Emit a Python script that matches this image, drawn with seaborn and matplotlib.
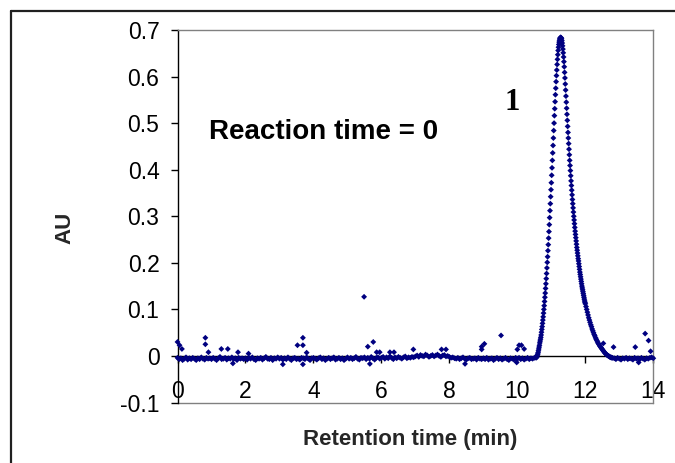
import matplotlib
matplotlib.use("Agg")
import matplotlib.pyplot as plt
import seaborn as sns
import pandas as pd
from matplotlib.lines import Line2D
from matplotlib.ticker import FixedLocator, FixedFormatter

# ---------------- data ----------------
baseline_time = [
    0.00, 0.05, 0.10, 0.15, 0.20, 0.25, 0.30, 0.35, 0.40, 0.45, 0.50, 0.55, 0.60, 0.65, 0.70, 0.75, 0.80, 0.85, 0.90, 0.95,
    1.00, 1.05, 1.10, 1.15, 1.20, 1.25, 1.30, 1.35, 1.40, 1.45, 1.50, 1.55, 1.60, 1.65, 1.70, 1.75, 1.80, 1.85, 1.90, 1.95,
    2.00, 2.05, 2.10, 2.15, 2.20, 2.25, 2.30, 2.35, 2.40, 2.45, 2.50, 2.55, 2.60, 2.65, 2.70, 2.75, 2.80, 2.85, 2.90, 2.95,
    3.00, 3.05, 3.10, 3.15, 3.20, 3.25, 3.30, 3.35, 3.40, 3.45, 3.50, 3.55, 3.60, 3.65, 3.70, 3.75, 3.80, 3.85, 3.90, 3.95,
    4.00, 4.05, 4.10, 4.15, 4.20, 4.25, 4.30, 4.35, 4.40, 4.45, 4.50, 4.55, 4.60, 4.65, 4.70, 4.75, 4.80, 4.85, 4.90, 4.95,
    5.00, 5.05, 5.10, 5.15, 5.20, 5.25, 5.30, 5.35, 5.40, 5.45, 5.50, 5.55, 5.60, 5.65, 5.70, 5.75, 5.80, 5.85, 5.90, 5.95,
    6.00, 6.05, 6.10, 6.15, 6.20, 6.25, 6.30, 6.35, 6.40, 6.45, 6.50, 6.55, 6.60, 6.65, 6.70, 6.75, 6.80, 6.85, 6.90, 6.95,
    7.00, 7.05, 7.10, 7.15, 7.20, 7.25, 7.30, 7.35, 7.40, 7.45, 7.50, 7.55, 7.60, 7.65, 7.70, 7.75, 7.80, 7.85, 7.90, 7.95,
    8.00, 8.05, 8.10, 8.15, 8.20, 8.25, 8.30, 8.35, 8.40, 8.45, 8.50, 8.55, 8.60, 8.65, 8.70, 8.75, 8.80, 8.85, 8.90, 8.95,
    9.00, 9.05, 9.10, 9.15, 9.20, 9.25, 9.30, 9.35, 9.40, 9.45, 9.50, 9.55, 9.60, 9.65, 9.70, 9.75, 9.80, 9.85, 9.90, 9.95,
    10.00, 10.05, 10.10, 10.15, 10.20, 10.25, 10.30, 10.35, 10.40, 10.45, 10.50,
    12.85, 12.90, 12.95, 13.00, 13.05, 13.10, 13.15, 13.20, 13.25, 13.30, 13.35, 13.40,
    13.45, 13.50, 13.55, 13.60, 13.65, 13.70, 13.75, 13.80, 13.85, 13.90, 13.95, 14.00,
]
baseline_au = [
    -0.004, -0.007, -0.005, -0.009, -0.006, -0.003, -0.008, -0.005, -0.007, -0.004, -0.006, -0.009, -0.005, -0.007, -0.003, -0.006, -0.008, -0.004, -0.006, -0.005,
    -0.007, -0.004, -0.006, -0.009, -0.005, -0.002, -0.007, -0.006, -0.004, -0.008, -0.005, -0.006, -0.003, -0.007, -0.005, -0.009, -0.004, -0.006, -0.005, -0.007,
    -0.005, -0.008, -0.004, -0.006, -0.003, -0.007, -0.009, -0.005, -0.006, -0.004, -0.008, -0.005, -0.002, -0.006, -0.007, -0.004, -0.009, -0.005, -0.006, -0.003,
    -0.006, -0.004, -0.008, -0.005, -0.007, -0.003, -0.006, -0.009, -0.005, -0.004, -0.007, -0.006, -0.008, -0.004, -0.005, -0.007, -0.003, -0.006, -0.009, -0.005,
    -0.004, -0.006, -0.008, -0.005, -0.003, -0.007, -0.005, -0.009, -0.006, -0.004, -0.007, -0.005, -0.003, -0.008, -0.006, -0.004, -0.007, -0.005, -0.009, -0.006,
    -0.003, -0.006, -0.004, -0.007, -0.005, -0.002, -0.006, -0.008, -0.004, -0.005, -0.003, -0.007, -0.004, -0.006, -0.002, -0.005, -0.008, -0.004, -0.003, -0.006,
    -0.004, -0.002, -0.006, -0.003, -0.005, -0.001, -0.004, -0.007, -0.003, -0.005, -0.002, -0.004, -0.006, -0.003, -0.001, -0.005, -0.003, -0.004, -0.002, -0.003,
    -0.001, 0.001, -0.002, 0.002, 0.000, -0.001, 0.003, 0.001, -0.002, 0.000, 0.002, -0.001, 0.001, 0.003, 0.000, -0.002, 0.001, 0.002, -0.001, 0.000,
    -0.002, -0.004, -0.003, -0.005, -0.006, -0.004, -0.007, -0.005, -0.003, -0.006, -0.008, -0.005, -0.004, -0.007, -0.006, -0.005, -0.008, -0.004, -0.006, -0.007,
    -0.005, -0.007, -0.004, -0.008, -0.006, -0.005, -0.009, -0.006, -0.004, -0.007, -0.005, -0.008, -0.006, -0.004, -0.007, -0.009, -0.005, -0.006, -0.008, -0.004,
    -0.006, -0.004, -0.007, -0.005, -0.008, -0.006, -0.004, -0.007, -0.005, -0.006, -0.004,
    -0.005, -0.007, -0.004, -0.006, -0.008, -0.005, -0.006, -0.004, -0.007, -0.005, -0.006, -0.008,
    -0.004, -0.006, -0.005, -0.007, -0.004, -0.006, -0.008, -0.005, -0.006, -0.004, -0.003, -0.005,
]

peak_time = [
    10.55, 10.56, 10.57, 10.58, 10.59, 10.60, 10.61, 10.62, 10.63, 10.64, 10.65, 10.66, 10.67, 10.68, 10.69,
    10.70, 10.71, 10.72, 10.73, 10.74, 10.75, 10.76, 10.77, 10.78, 10.79, 10.80, 10.81, 10.82, 10.83, 10.84,
    10.85, 10.86, 10.87, 10.88, 10.89, 10.90, 10.91, 10.92, 10.93, 10.94, 10.95, 10.96, 10.97, 10.98, 10.99,
    11.00, 11.01, 11.02, 11.03, 11.04, 11.05, 11.06, 11.07, 11.08, 11.09, 11.10, 11.11, 11.12, 11.13, 11.14,
    11.15, 11.16, 11.17, 11.18, 11.19, 11.20, 11.21, 11.22, 11.23, 11.24, 11.25, 11.26, 11.27, 11.28, 11.29,
    11.30, 11.31, 11.32, 11.33, 11.34, 11.35, 11.36, 11.37, 11.38, 11.39, 11.40, 11.41, 11.42, 11.43, 11.44,
    11.45, 11.46, 11.47, 11.48, 11.49, 11.50, 11.51, 11.52, 11.53, 11.54, 11.55, 11.56, 11.57, 11.58, 11.59,
    11.60, 11.61, 11.62, 11.63, 11.64, 11.65, 11.66, 11.67, 11.68, 11.69, 11.70, 11.71, 11.72, 11.73, 11.74,
    11.75, 11.76, 11.77, 11.78, 11.79, 11.80, 11.81, 11.82, 11.83, 11.84, 11.85, 11.86, 11.87, 11.88, 11.89,
    11.90, 11.91, 11.92, 11.93, 11.94, 11.95, 11.96, 11.97, 11.98, 11.99, 12.00,
    12.02, 12.04, 12.06, 12.08, 12.10, 12.12, 12.14, 12.16, 12.18, 12.20, 12.22, 12.24, 12.26, 12.28, 12.30,
    12.32, 12.34, 12.36, 12.38, 12.40, 12.42, 12.44, 12.46, 12.48, 12.50, 12.52, 12.54, 12.56, 12.58, 12.60,
    12.62, 12.64, 12.66, 12.68, 12.70, 12.72, 12.74, 12.76, 12.78, 12.80,
]
peak_au = [
    -0.004, -0.002, -0.003, 0.000, 0.002, 0.004, 0.007, 0.011, 0.015, 0.019, 0.023, 0.028, 0.032, 0.036, 0.040,
    0.045, 0.051, 0.057, 0.063, 0.070, 0.077, 0.084, 0.092, 0.100, 0.108, 0.117, 0.126, 0.135, 0.145, 0.155,
    0.166, 0.177, 0.189, 0.201, 0.213, 0.226, 0.239, 0.253, 0.267, 0.282, 0.297, 0.312, 0.327, 0.342, 0.357,
    0.372, 0.388, 0.404, 0.420, 0.436, 0.452, 0.468, 0.484, 0.500, 0.516, 0.531, 0.546, 0.561, 0.575, 0.589,
    0.602, 0.614, 0.626, 0.637, 0.647, 0.656, 0.663, 0.669, 0.674, 0.678, 0.681, 0.683, 0.684, 0.684, 0.683,
    0.681, 0.677, 0.672, 0.666, 0.659, 0.651, 0.642, 0.632, 0.621, 0.609, 0.597, 0.584, 0.571, 0.558, 0.545,
    0.532, 0.519, 0.506, 0.493, 0.480, 0.468, 0.456, 0.444, 0.432, 0.420, 0.409, 0.398, 0.387, 0.376, 0.366,
    0.356, 0.346, 0.336, 0.327, 0.318, 0.309, 0.300, 0.292, 0.284, 0.276, 0.268, 0.261, 0.254, 0.247, 0.240,
    0.233, 0.227, 0.221, 0.215, 0.209, 0.204, 0.198, 0.192, 0.186, 0.180, 0.175, 0.170, 0.165, 0.160, 0.155,
    0.150, 0.146, 0.142, 0.138, 0.134, 0.130, 0.126, 0.122, 0.118, 0.115, 0.112,
    0.106, 0.100, 0.094, 0.088, 0.082, 0.077, 0.072, 0.067, 0.063, 0.058, 0.054, 0.050, 0.046, 0.043, 0.039,
    0.036, 0.033, 0.030, 0.027, 0.025, 0.022, 0.020, 0.018, 0.016, 0.014, 0.012, 0.010, 0.008, 0.006, 0.005,
    0.003, 0.002, 0.001, 0.000, -0.001, -0.002, -0.003, -0.003, -0.004, -0.004,
]

spike_time = [0.00, 0.06, 0.13, 0.82, 0.82, 0.91, 1.29, 1.48, 1.63, 1.78, 2.09, 3.10, 3.53, 3.69, 3.69,
              3.69, 3.80, 5.49, 5.60, 5.66, 5.76, 5.86, 5.95, 6.25, 6.37, 6.94, 7.77, 7.90, 8.46, 8.95,
              8.95, 9.03, 9.52, 9.98, 10.00, 10.05, 10.12, 10.20, 12.53, 12.83, 13.47, 13.57, 13.76, 13.86, 13.92]
spike_au = [0.030, 0.023, 0.015, 0.039, 0.025, 0.008, 0.015, 0.015, -0.016, 0.008, 0.005, -0.018, 0.023, 0.039, 0.023,
            -0.018, 0.007, 0.127, 0.020, -0.017, 0.030, 0.008, 0.008, 0.008, 0.008, 0.014, 0.014, 0.014, -0.017, 0.020,
            0.014, 0.026, 0.044, -0.014, 0.014, 0.023, 0.023, 0.015, 0.027, 0.019, 0.019, -0.014, 0.048, 0.033, 0.010]

x_ticks = [0, 2, 4, 6, 8, 10, 12, 14]
x_tick_labels = ["0", "2", "4", "6", "8", "10", "12", "14"]
y_ticks = [-0.1, 0.0, 0.1, 0.2, 0.3, 0.4, 0.5, 0.6, 0.7]
y_tick_labels = ["-0.1", "0", "0.1", "0.2", "0.3", "0.4", "0.5", "0.6", "0.7"]

# ---------------- figure ----------------
sns.set_theme(style="white")
plt.rcParams['font.family'] = ['Liberation Sans', 'DejaVu Sans']

df = pd.DataFrame({
    "time": baseline_time + peak_time + spike_time,
    "au": baseline_au + peak_au + spike_au,
})

W, H = 675, 463
fig = plt.figure(figsize=(W / 100, H / 100), dpi=100)
fig.patch.set_facecolor("white")
ax_l, ax_r, ax_t, ax_b = 177.5, 653.3, 30.0, 402.5
ax = fig.add_axes([ax_l / W, 1 - ax_b / H, (ax_r - ax_l) / W, (ax_b - ax_t) / H])

sns.scatterplot(data=df, x="time", y="au", marker="D", s=9, color="#000080",
                edgecolor="none", linewidth=0, ax=ax, legend=False, clip_on=False, zorder=3)

ax.set_xlim(0, 14)
ax.set_ylim(-0.1, 0.7)
ax.set_xlabel("")
ax.set_ylabel("")

# spines
for s in ["top", "right"]:
    ax.spines[s].set_color("#808080")
    ax.spines[s].set_linewidth(1.0)
ax.spines["left"].set_color("black")
ax.spines["left"].set_linewidth(1.0)
ax.spines["bottom"].set_position(("data", 0))
ax.spines["bottom"].set_color("black")
ax.spines["bottom"].set_linewidth(1.0)
ax.spines["bottom"].set_zorder(2)
ax.add_line(Line2D([0, 1], [0, 0], transform=ax.transAxes, color="#808080", lw=1.0, clip_on=False))

ax.xaxis.set_major_locator(FixedLocator(x_ticks))
ax.xaxis.set_major_formatter(FixedFormatter(x_tick_labels))
ax.yaxis.set_major_locator(FixedLocator(y_ticks))
ax.yaxis.set_major_formatter(FixedFormatter(y_tick_labels))
ax.tick_params(axis="x", direction="out", length=5, width=1, color="black", pad=12,
               labelsize=16.5, labelcolor="black", bottom=True)
ax.tick_params(axis="y", direction="out", length=5, width=1, color="black", pad=8,
               labelsize=16.5, labelcolor="black", left=True)
ax.grid(False)

ax.text(0.93, 0.48, "Reaction time = 0", fontsize=20, fontweight="bold",
        ha="left", va="center", color="black")
ax.text(9.85, 0.545, "1", fontsize=22, fontweight="bold", family="Liberation Serif",
        ha="center", va="center", color="black")

fig.text(65 / W, 1 - 228 / H, "AU", rotation=90, fontsize=16, fontweight="bold",
         ha="center", va="center")
fig.text(410 / W, 1 - 440 / H, "Retention time (min)", fontsize=16, fontweight="bold",
         ha="center", va="center")

# outer frame (top and left visible)
fig.add_artist(Line2D([10.5 / W, 1.0], [1 - 10.5 / H, 1 - 10.5 / H], transform=fig.transFigure,
                      color="#202020", lw=1.6))
fig.add_artist(Line2D([10.5 / W, 10.5 / W], [0.0, 1 - 10.5 / H], transform=fig.transFigure,
                      color="#202020", lw=1.6))

fig.savefig("out.png", dpi=100, facecolor="white")
